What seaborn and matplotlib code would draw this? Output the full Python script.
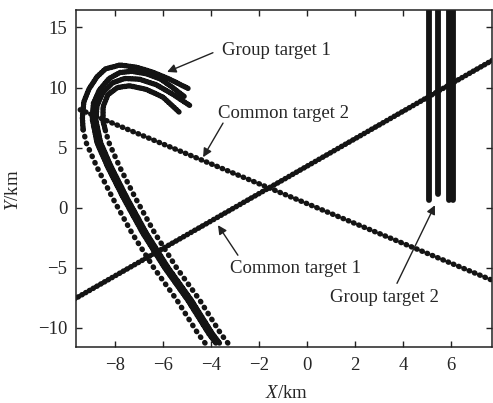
import matplotlib
matplotlib.use("Agg")
import matplotlib.pyplot as plt
import seaborn as sns
import pandas as pd

# ---------------- data (km) ----------------
# common targets: straight tracks (start, end)
ct1_x = [-9.70, 7.75]
ct1_y = [-7.62, 12.30]
ct2_x = [-9.45, 7.75]
ct2_y = [8.15, -6.07]

# group target 1: four tracks, lower leg (bottom -> turn) and upper arc
gA_low_x = [-4.25, -4.54, -5.42, -6.40, -7.30, -8.10, -8.76, -9.20, -9.33]
gA_low_y = [-11.27, -10.50, -7.70, -4.96, -2.10, 0.80, 3.40, 5.40, 6.50]
gA_up_x = [-9.33, -9.36, -9.30, -9.08, -8.75, -8.40, -7.79, -7.08, -6.42, -5.71, -4.96]
gA_up_y = [6.50, 7.50, 8.80, 9.90, 10.90, 11.55, 11.88, 11.68, 11.27, 10.68, 9.93]

gB_x = [-3.80, -4.09, -4.97, -5.95, -6.85, -7.65, -8.31, -8.75, -8.95, -8.90,
        -8.65, -8.25, -7.80, -7.30, -6.70, -6.10, -5.60, -5.08]
gB_y = [-11.27, -10.50, -7.70, -4.96, -2.10, 0.80, 3.40, 5.40, 7.40, 8.70,
        9.80, 10.75, 11.25, 11.35, 11.15, 10.70, 10.00, 9.20]

gC_x = [-3.65, -3.94, -4.82, -5.80, -6.70, -7.50, -8.16, -8.60, -8.80, -8.75,
        -8.50, -8.10, -7.60, -7.00, -6.30, -5.60, -4.88]
gC_y = [-11.27, -10.50, -7.70, -4.96, -2.10, 0.80, 3.40, 5.40, 7.30, 8.50,
        9.60, 10.40, 10.75, 10.70, 10.25, 9.45, 8.50]

gD_low_x = [-3.30, -3.59, -4.47, -5.45, -6.35, -7.15, -7.81, -8.25, -8.40]
gD_low_y = [-11.27, -10.50, -7.70, -4.96, -2.10, 0.80, 3.40, 5.40, 6.40]
gD_up_x = [-8.40, -8.50, -8.50, -8.30, -7.90, -7.40, -6.70, -6.00, -5.30]
gD_up_y = [6.40, 7.20, 8.40, 9.40, 10.00, 10.15, 9.85, 9.20, 7.90]

# group target 2: four near-vertical tracks
g2_x = [5.08, 5.46, 5.92, 6.10]
g2_y_start = [0.63, 1.13, 0.63, 0.63]
g2_y_end = [16.90, 16.90, 16.90, 16.90]

# axis ticks
x_ticks = [-8, -6, -4, -2, 0, 2, 4, 6]
y_ticks = [-10, -5, 0, 5, 10, 15]

# ---------------- style ----------------
sns.set_theme(style="white")
plt.rcParams["font.family"] = ["Liberation Serif", "DejaVu Serif"]
plt.rcParams["mathtext.fontset"] = "custom"
plt.rcParams["mathtext.rm"] = "Liberation Serif"
plt.rcParams["mathtext.it"] = "Liberation Serif:italic"

FS = 13.5
DOT = "#141414"
LW = 3.9  # dot diameter in points

fig = plt.figure(figsize=(4.93, 4.03), dpi=100)
ax = fig.add_axes([0.154, 0.139, 0.844, 0.836])


def track(xs, ys, gap):
    df = pd.DataFrame({"x": xs, "y": ys})
    sns.lineplot(data=df, x="x", y="y", sort=False, estimator=None, ax=ax,
                 color=DOT, linewidth=LW, linestyle=(0, (0.1, gap)),
                 dash_capstyle="round", legend=False)


# common targets
track(ct1_x, ct1_y, 0.70)
track(ct2_x, ct2_y, 0.95)

# group target 1
track(gA_low_x, gA_low_y, 1.20)
track(gA_up_x, gA_up_y, 0.42)
track(gB_x, gB_y, 0.42)
track(gC_x, gC_y, 0.42)
track(gD_low_x, gD_low_y, 1.20)
track(gD_up_x, gD_up_y, 0.42)

# group target 2
for gx, ys, ye in zip(g2_x, g2_y_start, g2_y_end):
    df = pd.DataFrame({"x": [gx, gx], "y": [ys, ye]})
    sns.lineplot(data=df, x="x", y="y", sort=False, estimator=None, ax=ax,
                 color=DOT, linewidth=4.2, solid_capstyle="round", legend=False)

ax.set_xlim(-9.63, 7.71)
ax.set_ylim(-11.6, 16.45)
ax.set_xticks(x_ticks)
ax.set_yticks(y_ticks)
ax.set_xticklabels([f"{t}".replace("-", "\u2212") for t in x_ticks], fontsize=FS)
ax.set_yticklabels([f"{t}".replace("-", "\u2212") for t in y_ticks], fontsize=FS)
ax.tick_params(direction="in", length=4.5, width=1.0, color="#222222",
               top=True, right=True, bottom=True, left=True, pad=6)
ax.tick_params(axis="x", pad=7)
for s in ax.spines.values():
    s.set_visible(True)
    s.set_color("#222222")
    s.set_linewidth(1.1)

ax.set_xlabel("$X$/km", fontsize=FS)
ax.set_ylabel("$Y$/km", fontsize=FS)
ax.xaxis.set_label_coords(0.507, -0.113)
ax.yaxis.set_label_coords(-0.13, 0.466)

arrow = dict(arrowstyle="-|>", lw=1.0, color="#222222", mutation_scale=13,
             shrinkA=0, shrinkB=0)
ax.annotate("", xy=(-5.83, 11.3), xytext=(-3.92, 12.9), arrowprops=arrow)
ax.text(-3.54, 13.1, "Group target 1", fontsize=FS, ha="left", va="center")

ax.annotate("", xy=(-4.33, 4.2), xytext=(-3.5, 7.04), arrowprops=arrow)
ax.text(-3.71, 7.88, "Common target 2", fontsize=FS, ha="left", va="center")

ax.annotate("", xy=(-3.71, -1.46), xytext=(-2.88, -3.96), arrowprops=arrow)
ax.text(-3.21, -5.04, "Common target 1", fontsize=FS, ha="left", va="center")

ax.annotate("", xy=(5.33, 0.2), xytext=(3.75, -6.3), arrowprops=arrow)
ax.text(0.96, -7.46, "Group target 2", fontsize=FS, ha="left", va="center")

fig.savefig("out.png", dpi=100, facecolor="white")
